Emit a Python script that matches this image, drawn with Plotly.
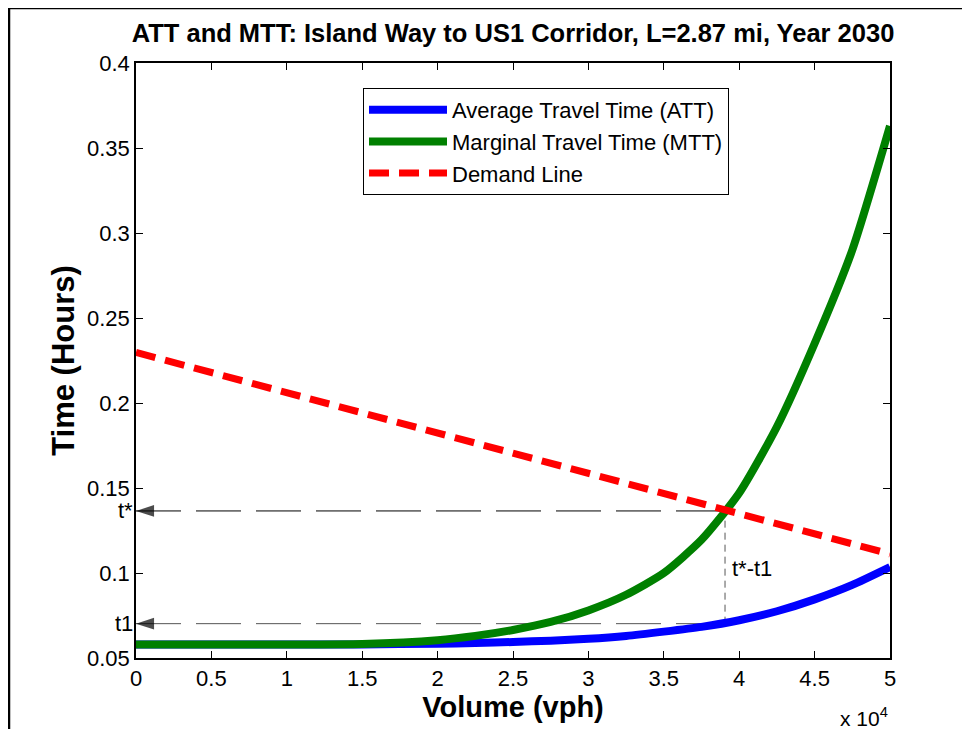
import plotly.graph_objects as go

# ---- data ----
volume = [0, 5000, 10000, 15000, 20000, 22500, 25000, 27500, 30000, 32500,
          35000, 37500, 40000, 42500, 45000, 47500, 50000]
att = [0.0580, 0.0580, 0.0580, 0.0580, 0.0584, 0.0588, 0.0594, 0.0602, 0.0613,
       0.0630, 0.0655, 0.0683, 0.0722, 0.0775, 0.0845, 0.0930, 0.1035]
mtt = [0.0580, 0.0580, 0.0580, 0.0583, 0.0605, 0.0630, 0.0665, 0.0712, 0.0780,
       0.0872, 0.1000, 0.1195, 0.1470, 0.1860, 0.2350, 0.2900, 0.3630]
demand_volume = [0, 50000]
demand_time = [0.2298, 0.1112]

v_star = 39060
t_star = 0.1365
t_one = 0.0702

x_tickvals = [0, 5000, 10000, 15000, 20000, 25000, 30000, 35000, 40000, 45000, 50000]
x_ticktext = ["0", "0.5", "1", "1.5", "2", "2.5", "3", "3.5", "4", "4.5", "5"]
y_tickvals = [0.05, 0.1, 0.15, 0.2, 0.25, 0.3, 0.35, 0.4]
y_ticktext = ["0.05", "0.1", "0.15", "0.2", "0.25", "0.3", "0.35", "0.4"]

FONT = "Liberation Sans, Arial, sans-serif"

# page body has an 8px margin; the figure is sized so the plot area lands
# at screen x 136..890, y 63..658
W, H = 954, 721
ML, MR, MT, MB = 128, 72, 55, 71


def px_x(sx):
    return (sx - 136) / 754


def px_y(sy):
    return (658 - sy) / 595


fig = go.Figure()

# helper dashed lines (arrowheads pointing at the time axis)
fig.add_trace(go.Scatter(x=[0, v_star], y=[t_star, t_star], mode="lines+markers",
                         line=dict(color="black", width=1, dash="45px,15px"),
                         marker=dict(symbol="arrow", angle=-90, size=[19, 0], color="black",
                                     line=dict(width=0)),
                         showlegend=False, hoverinfo="skip", cliponaxis=False))
fig.add_trace(go.Scatter(x=[0, v_star], y=[t_one, t_one], mode="lines+markers",
                         line=dict(color="#555555", width=1, dash="45px,15px"),
                         marker=dict(symbol="arrow", angle=-90, size=[19, 0], color="black",
                                     line=dict(width=0)),
                         showlegend=False, hoverinfo="skip", cliponaxis=False))
fig.add_trace(go.Scatter(x=[v_star, v_star], y=[t_one, t_star], mode="lines",
                         line=dict(color="#555555", width=1, dash="7px,5px"),
                         showlegend=False, hoverinfo="skip"))

fig.add_trace(go.Scatter(x=volume, y=att, mode="lines", name="Average Travel Time (ATT)",
                         line=dict(color="#0000FF", width=8, shape="spline", smoothing=0.6)))
fig.add_trace(go.Scatter(x=volume, y=mtt, mode="lines", name="Marginal Travel Time (MTT)",
                         line=dict(color="#008000", width=8, shape="spline", smoothing=0.6)))
fig.add_trace(go.Scatter(x=demand_volume, y=demand_time, mode="lines", name="Demand Line",
                         line=dict(color="#FF0000", width=7, dash="20px,10px")))

annotations = []
for tv, lab in [(t_star, "t*"), (t_one, "t1")]:
    annotations.append(dict(x=0, y=tv, xref="paper", yref="y", text=lab, showarrow=False,
                            xanchor="right", yanchor="middle", xshift=-1,
                            font=dict(family=FONT, size=22, color="black")))
annotations.append(dict(x=v_star, y=0.1025, xref="x", yref="y", text="t*-t1", showarrow=False,
                        xanchor="left", yanchor="middle", xshift=5,
                        font=dict(family=FONT, size=22, color="black")))
annotations.append(dict(x=1, y=px_y(717), xref="paper", yref="paper", text="x 10<sup>4</sup>",
                        showarrow=False, xanchor="right", yanchor="middle",
                        font=dict(family=FONT, size=21, color="black")))

fig.update_layout(
    width=W, height=H,
    margin=dict(l=ML, r=MR, t=MT, b=MB),
    paper_bgcolor="white", plot_bgcolor="white",
    font=dict(family=FONT, color="black"),
    title=dict(text="<b>ATT and MTT: Island Way to US1 Corridor, L=2.87 mi, Year 2030</b>",
               x=0.5, xref="paper", xanchor="center",
               y=1 - (33 - 8) / H, yref="container", yanchor="middle",
               font=dict(family=FONT, size=25.5, color="black")),
    xaxis=dict(range=[0, 50000], tickvals=x_tickvals, ticktext=x_ticktext,
               showgrid=False, zeroline=False, showline=True, linecolor="black", linewidth=1.5,
               mirror="ticks", ticks="inside", ticklen=7, tickcolor="black",
               tickfont=dict(family=FONT, size=22, color="black"),
               title=dict(text="<b>Volume (vph)</b>", standoff=0,
                          font=dict(family=FONT, size=29, color="black"))),
    yaxis=dict(range=[0.05, 0.4], tickvals=y_tickvals, ticktext=y_ticktext,
               showgrid=False, zeroline=False, showline=True, linecolor="black", linewidth=1.5,
               mirror="ticks", ticks="inside", ticklen=7, tickcolor="black",
               tickfont=dict(family=FONT, size=22, color="black"),
               title=dict(text="<b>Time (Hours)</b>", standoff=3,
                          font=dict(family=FONT, size=31, color="black"))),
    legend=dict(x=px_x(363), y=px_y(88), xanchor="left", yanchor="top",
                bgcolor="white", bordercolor="black", borderwidth=1,
                font=dict(family=FONT, size=22, color="black"),
                itemwidth=78, tracegroupgap=0),
    annotations=annotations,
    shapes=[
        dict(type="line", xref="paper", yref="paper",
             x0=px_x(9), x1=px_x(1000), y0=px_y(8), y1=px_y(8),
             line=dict(color="black", width=2.5), layer="below"),
        dict(type="line", xref="paper", yref="paper",
             x0=px_x(9), x1=px_x(9), y0=px_y(8), y1=px_y(800),
             line=dict(color="black", width=2.5), layer="below"),
    ],
)

fig.write_html("out.html")
